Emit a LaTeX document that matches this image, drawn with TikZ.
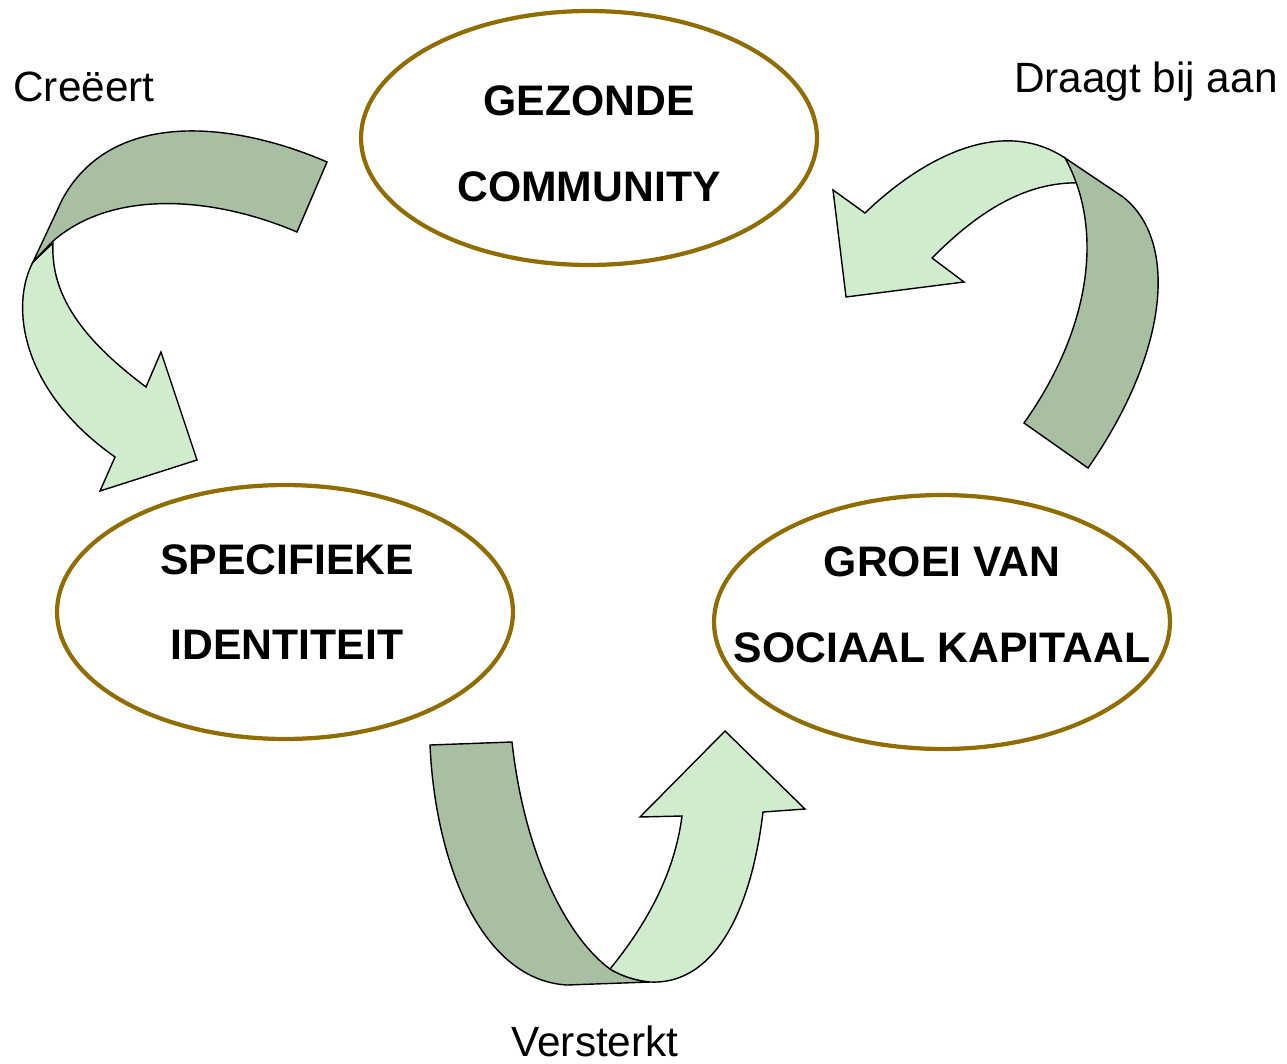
\documentclass[tikz,border=0pt]{standalone}
\usepackage{fontspec}
\setmainfont{Liberation Sans}
\usetikzlibrary{shapes.geometric}
\definecolor{darkband}{HTML}{A8BFA3}
\definecolor{lightband}{HTML}{D0EBCD}
\definecolor{ringcol}{HTML}{8F6D00}
\tikzset{
  bubble/.style={ellipse, draw=ringcol, line width=2.4pt, fill=white,
     minimum width=9.12cm, minimum height=5.08cm, inner sep=0pt},
  bubbletext/.style={font=\fontsize{24.3}{48.8}\selectfont\bfseries, align=center, inner sep=0pt},
  label/.style={font=\fontsize{24.1}{28}\selectfont, inner sep=0pt},
  band/.style={draw=black, line width=0.8pt, line join=miter},
  darkpart/.style={band, fill=darkband},
  lightpart/.style={band, fill=lightband},
}
\begin{document}
\begin{tikzpicture}[x=0.02cm,y=-0.02cm]
\useasboundingbox (0,0) rectangle (1287,1064);

% ellipses
\node[bubble] (top) at (589,138) {};
\node[bubble] (left) at (285,612) {};
\node[bubble] (right) at (942,622) {};
\node[bubbletext] (toptext) at (589,144) {GEZONDE\\COMMUNITY};
\node[bubbletext] (lefttext) at (287,602) {SPECIFIEKE\\IDENTITEIT};
\node[bubbletext] (righttext) at (942,605) {GROEI VAN\\SOCIAAL KAPITAAL};

% arrow 1 (Creeert)
\path[lightpart] (33,262) .. controls (10,305) and (20,390) .. (115,457)
  -- (100,491) -- (197,460) -- (161,352) -- (146,387)
  .. controls (90,345) and (50,300) .. (53,243) -- cycle;
\path[darkpart] (327,162) .. controls (230,120) and (110,110) .. (62,200)
  -- (33,262) -- (52,242) .. controls (110,190) and (210,195) .. (297,232) -- cycle;

% arrow 2 (Draagt bij aan)
\path[lightpart] (833,190) -- (865,213) .. controls (920,160) and (1000,115) .. (1065,158)
  .. controls (1074,166) and (1080,174) .. (1083,183)
  .. controls (1020,180) and (970,220) .. (932,258)
  -- (964,282) -- (846,297) -- cycle;
\path[darkpart] (1065,158) -- (1123,197) .. controls (1178,240) and (1170,350) .. (1088,468)
  -- (1024,423) .. controls (1090,330) and (1105,230) .. (1065,158) -- cycle;

% arrow 3 (Versterkt)
\path[darkpart] (430,745) -- (512,742) .. controls (525,860) and (570,940) .. (610,969)
  .. controls (625,978) and (640,981) .. (650,982)
  -- (567,985) .. controls (480,980) and (435,860) .. (430,745) -- cycle;
\path[lightpart] (610,969) .. controls (650,920) and (675,870) .. (682,816)
  -- (640,817) -- (725,731) -- (805,809) -- (763,812)
  .. controls (750,920) and (710,985) .. (650,982)
  .. controls (640,981) and (625,978) .. (610,969) -- cycle;

% labels
\node[label, anchor=west] (l1) at (13,87) {Creëert};
\node[label, anchor=east] (l2) at (1278,82) {Draagt bij aan};
\node[label] (l3) at (595,1041) {Versterkt};
\end{tikzpicture}
\end{document}
